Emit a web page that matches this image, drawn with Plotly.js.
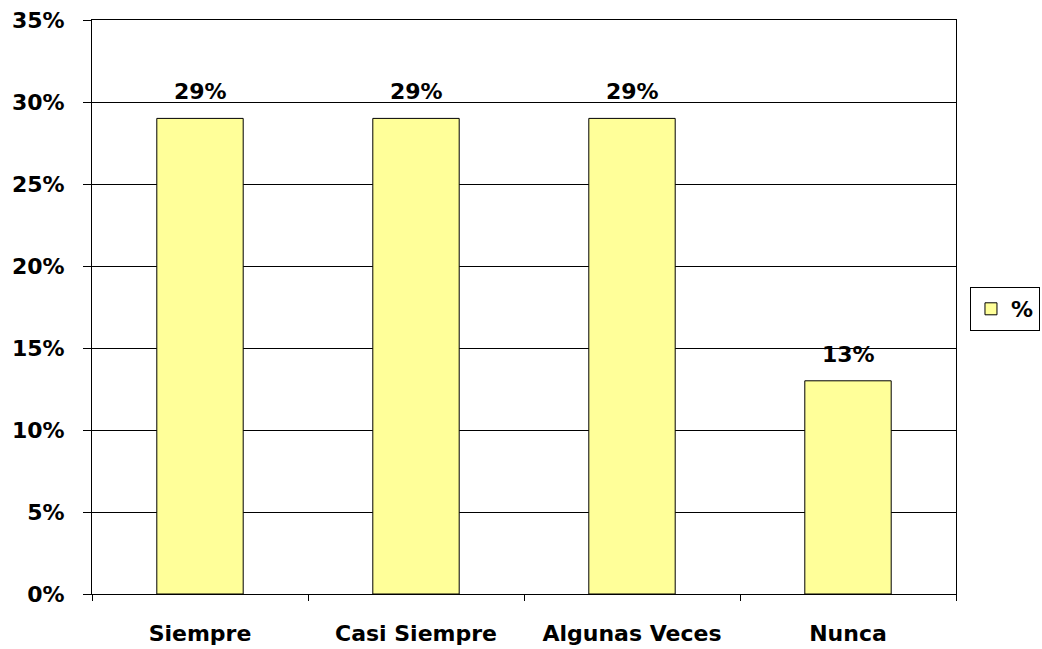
<!DOCTYPE html>
<html>
<head>
<meta charset="utf-8">
<script src="https://cdn.plot.ly/plotly-3.0.1.min.js"></script>
<style>html,body{margin:0;padding:0;background:#fff;}#chart{width:1042px;height:649px;}</style>
</head>
<body>
<div id="chart"></div>
<script>
const categories = ["Siempre", "Casi Siempre", "Algunas Veces", "Nunca"];
const values = [0.29, 0.29, 0.29, 0.13];
const labels = ["29%", "29%", "29%", "13%"];
const seriesName = "%";
const yTicks = [0, 0.05, 0.10, 0.15, 0.20, 0.25, 0.30, 0.35];

const font = {family: "DejaVu Sans", size: 22, color: "#000"};

const trace = {
  type: "bar",
  x: categories,
  y: values,
  name: "<b>" + seriesName + "</b>",
  width: 0.4,
  marker: {color: "#FFFF99", line: {color: "#000", width: 1}},
  showlegend: true,
  hoverinfo: "skip"
};

const annotations = categories.map((c, i) => ({
  x: c, y: values[i], xref: "x", yref: "y",
  text: "<b>" + labels[i] + "</b>",
  showarrow: false, yanchor: "bottom", yshift: 12,
  font: font
}));

const layout = {
  width: 1042, height: 649,
  margin: {l: 92, r: 86, t: 20, b: 55, autoexpand: false},
  paper_bgcolor: "#fff", plot_bgcolor: "#fff",
  font: font,
  bargap: 0.6,
  xaxis: {
    type: "category",
    showline: true, linecolor: "#000", linewidth: 1, mirror: true,
    ticks: "outside", ticklen: 6, tickcolor: "#000", tickson: "boundaries",
    tickfont: font, ticklabelstandoff: 20,
    showgrid: false, zeroline: false,
    ticktext: categories.map(c => "<b>" + c + "</b>"), tickvals: categories, tickmode: "array"
  },
  yaxis: {
    range: [0, 0.35],
    tickmode: "array", tickvals: yTicks,
    ticktext: yTicks.map(v => "<b>" + Math.round(v * 100) + "%</b>"),
    showline: true, linecolor: "#000", linewidth: 1, mirror: true,
    ticks: "outside", ticklen: 8, tickcolor: "#000",
    tickfont: font, ticklabelstandoff: 14,
    showgrid: true, gridcolor: "#000", gridwidth: 1,
    zeroline: false
  },
  legend: {
    x: 1.0972, xanchor: "right", y: 0.4965, yanchor: "middle",
    bordercolor: "#000", borderwidth: 1, bgcolor: "#fff",
    font: font, itemwidth: 30
  },
  annotations: annotations,
  showlegend: true
};

Plotly.newPlot("chart", [trace], layout, {displayModeBar: false, staticPlot: true});
</script>
</body>
</html>
